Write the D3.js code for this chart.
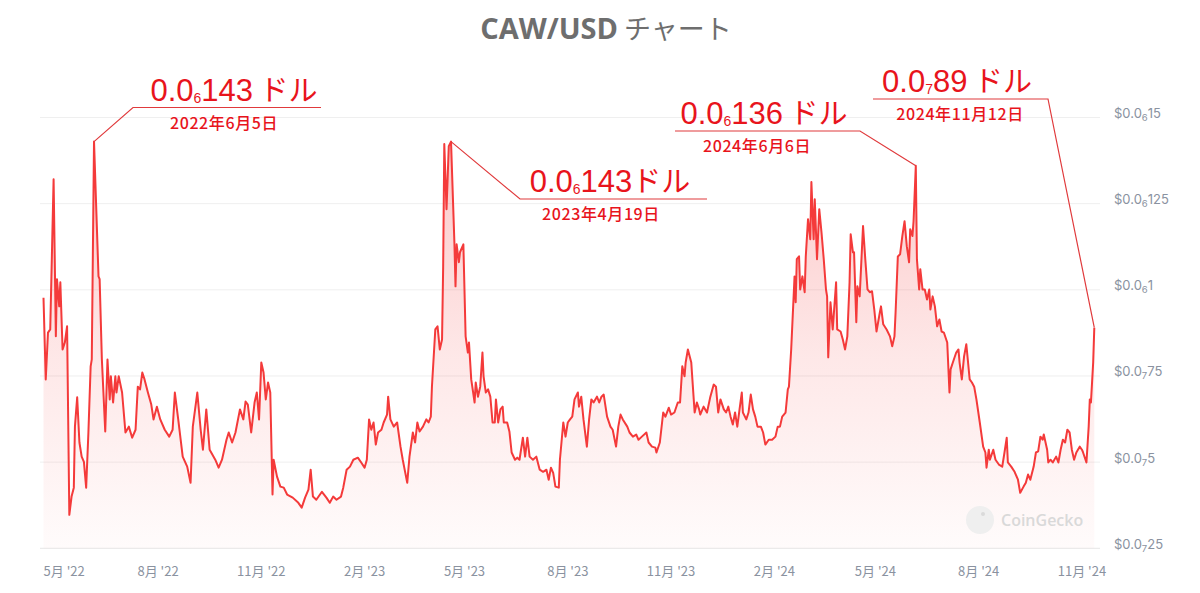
<!DOCTYPE html>
<html><head><meta charset="utf-8">
<script src="https://cdn.jsdelivr.net/npm/d3@7"></script>
<style>
html,body{margin:0;padding:0;background:#fff;}
svg{display:block;}
</style></head><body>
<svg id="chart" width="1200" height="593"></svg>
<script>
// Prices are in units of 1e-8 USD (i.e. 14.3 = $0.000000143)
const points2022 = [
["2022-04-21",9.77],["2022-04-23",7.40],["2022-04-25",8.76],["2022-04-27",8.85],["2022-04-30",13.21],
["2022-05-02",8.65],["2022-05-03",10.31],["2022-05-05",9.52],["2022-05-06",10.22],["2022-05-08",8.27],["2022-05-10",8.47],["2022-05-12",8.94],["2022-05-14",3.47],["2022-05-16",4.00],["2022-05-18",4.26],["2022-05-19",6.03],["2022-05-21",6.88],["2022-05-23",5.57],["2022-05-25",5.16],["2022-05-27",5.01],["2022-05-29",4.26],["2022-05-31",5.86],
["2022-06-02",7.78],["2022-06-03",7.98],["2022-06-05",14.30],["2022-06-09",10.39],["2022-06-10",10.31],["2022-06-12",7.98],["2022-06-15",5.89],["2022-06-17",7.98],["2022-06-19",6.82],["2022-06-20",7.49],["2022-06-22",6.73],["2022-06-24",7.49],["2022-06-25",7.02],["2022-06-27",7.49],["2022-06-30",7.02],
["2022-07-03",5.86],["2022-07-06",6.03],["2022-07-09",5.71],["2022-07-12",5.94],["2022-07-14",7.19],["2022-07-16",7.11],["2022-07-18",7.60],["2022-07-20",7.40],["2022-07-23",7.02],["2022-07-26",6.67],["2022-07-28",6.24],["2022-07-31",6.61],
["2022-08-03",6.24],["2022-08-07",5.94],["2022-08-11",5.74],["2022-08-14",5.94],["2022-08-16",7.02],["2022-08-19",6.24],["2022-08-23",5.16],["2022-08-27",4.87],["2022-08-30",4.40],
["2022-09-01",6.03],["2022-09-05",7.02],["2022-09-08",5.94],["2022-09-10",5.36],["2022-09-13",6.53],["2022-09-16",5.36],["2022-09-21",5.07],["2022-09-24",4.84],["2022-09-27",5.07],
["2022-10-01",5.65],["2022-10-03",5.86],["2022-10-06",5.57],["2022-10-09",5.86],["2022-10-13",6.53],["2022-10-16",6.24],["2022-10-18",6.76],["2022-10-20",6.67],["2022-10-23",5.86],["2022-10-26",6.73],["2022-10-28",7.02],["2022-10-30",6.24],
["2022-11-01",7.89],["2022-11-03",7.60],["2022-11-05",6.82],["2022-11-07",7.31],["2022-11-09",7.02],["2022-11-11",4.06],["2022-11-12",5.07],["2022-11-15",4.58],["2022-11-18",4.29],["2022-11-21",4.26],["2022-11-24",4.06],["2022-11-29",3.97],
["2022-12-04",3.82],["2022-12-07",3.68],["2022-12-10",3.97],["2022-12-13",4.20],["2022-12-15",4.78],["2022-12-17",4.00],["2022-12-20",3.91],["2022-12-25",4.14],["2022-12-29",3.97]
];
const points2023 = [
["2023-01-01",3.82],["2023-01-04",4.00],["2023-01-07",3.91],["2023-01-11",4.00],["2023-01-13",4.26],["2023-01-16",4.78],["2023-01-19",4.87],["2023-01-22",5.07],["2023-01-26",5.13],["2023-01-29",4.99],
["2023-02-01",4.84],["2023-02-03",5.07],["2023-02-05",6.24],["2023-02-07",5.94],["2023-02-09",6.15],["2023-02-11",5.51],["2023-02-13",5.86],["2023-02-16",5.94],["2023-02-18",6.15],["2023-02-21",6.38],["2023-02-22",6.90],["2023-02-24",6.24],["2023-02-27",6.03],
["2023-03-02",6.15],["2023-03-05",5.45],["2023-03-07",5.07],["2023-03-11",4.40],["2023-03-13",5.16],["2023-03-16",5.86],["2023-03-18",5.57],["2023-03-20",6.15],["2023-03-22",5.89],["2023-03-25",6.03],["2023-03-28",6.24],["2023-03-30",6.15],
["2023-04-01",6.32],["2023-04-02",7.19],["2023-04-05",8.85],["2023-04-07",8.94],["2023-04-09",8.27],["2023-04-11",8.56],["2023-04-12",10.68],["2023-04-13",14.23],["2023-04-15",12.34],["2023-04-17",14.17],["2023-04-19",14.30],["2023-04-22",11.38],["2023-04-23",10.10],["2023-04-24",11.32],["2023-04-26",10.80],["2023-04-27",11.09],["2023-04-30",11.32],
["2023-05-02",8.65],["2023-05-04",8.18],["2023-05-05",8.47],["2023-05-07",7.40],["2023-05-10",6.73],["2023-05-11",7.31],["2023-05-13",6.90],["2023-05-15",7.19],["2023-05-17",8.18],["2023-05-18",7.49],["2023-05-20",7.02],["2023-05-22",7.11],["2023-05-24",6.90],["2023-05-26",6.15],["2023-05-28",6.15],["2023-05-29",6.82],["2023-05-31",6.15],
["2023-06-02",6.53],["2023-06-04",6.61],["2023-06-05",6.15],["2023-06-08",6.15],["2023-06-10",5.89],["2023-06-12",5.28],["2023-06-15",5.07],["2023-06-17",5.13],["2023-06-19",5.07],["2023-06-22",5.71],["2023-06-24",5.16],["2023-06-26",5.71],["2023-06-28",5.16],
["2023-07-01",5.07],["2023-07-04",5.16],["2023-07-07",4.78],["2023-07-10",4.72],["2023-07-13",4.78],["2023-07-15",4.49],["2023-07-17",4.84],["2023-07-19",4.69],["2023-07-21",4.29],["2023-07-24",4.26],["2023-07-25",5.07],["2023-07-28",6.15],["2023-07-30",5.74],
["2023-08-01",6.15],["2023-08-03",6.24],["2023-08-05",6.32],["2023-08-07",6.82],["2023-08-10",7.02],["2023-08-11",6.61],["2023-08-13",6.90],["2023-08-15",6.24],["2023-08-18",5.45],["2023-08-20",6.24],["2023-08-22",6.82],["2023-08-24",6.73],["2023-08-27",6.90],["2023-08-29",6.73],["2023-08-31",6.90],
["2023-09-02",6.96],["2023-09-05",6.32],["2023-09-08",6.03],["2023-09-10",5.94],["2023-09-13",5.45],["2023-09-15",6.03],["2023-09-17",6.38],["2023-09-19",6.24],["2023-09-23",6.03],["2023-09-25",5.86],["2023-09-28",5.74],
["2023-10-01",5.80],["2023-10-03",5.65],["2023-10-06",5.74],["2023-10-10",5.86],["2023-10-12",5.57],["2023-10-15",5.45],["2023-10-18",5.42],["2023-10-19",5.28],["2023-10-22",5.57],["2023-10-25",6.44],["2023-10-27",6.32],["2023-10-30",6.58],
["2023-11-01",6.38],["2023-11-04",6.44],["2023-11-07",6.73],["2023-11-09",6.73],["2023-11-11",7.78],["2023-11-13",7.49],["2023-11-14",7.89],["2023-11-16",8.27],["2023-11-19",7.89],["2023-11-20",7.40],["2023-11-22",6.44],["2023-11-24",6.73],["2023-11-26",6.53],["2023-11-27",6.38],["2023-11-30",6.61],
["2023-12-03",6.44],["2023-12-06",6.90],["2023-12-09",7.25],["2023-12-11",7.19],["2023-12-13",6.44],["2023-12-15",6.82],["2023-12-18",6.53],["2023-12-20",6.44],["2023-12-22",6.61],["2023-12-24",6.32],["2023-12-26",6.09],["2023-12-28",6.44],["2023-12-30",6.03]
];
const points2024 = [
["2024-01-01",6.53],["2024-01-03",7.02],["2024-01-04",6.44],["2024-01-07",6.24],["2024-01-09",6.44],["2024-01-11",6.96],["2024-01-13",6.53],["2024-01-15",6.32],["2024-01-17",6.03],["2024-01-20",6.03],["2024-01-22",5.86],["2024-01-24",5.51],["2024-01-27",5.65],["2024-01-30",5.65],
["2024-02-02",5.74],["2024-02-04",6.03],["2024-02-06",6.03],["2024-02-08",6.32],["2024-02-11",6.44],["2024-02-13",7.11],["2024-02-14",7.19],["2024-02-16",8.27],["2024-02-19",10.39],["2024-02-20",9.64],["2024-02-21",10.89],["2024-02-23",10.97],["2024-02-24",10.01],["2024-02-26",10.39],["2024-02-28",9.93],["2024-02-29",10.97],
["2024-03-02",12.05],["2024-03-04",11.47],["2024-03-05",13.13],["2024-03-07",11.47],["2024-03-08",12.63],["2024-03-10",10.89],["2024-03-12",12.34],["2024-03-14",11.67],["2024-03-16",10.89],["2024-03-18",10.01],["2024-03-19",9.81],["2024-03-20",8.04],["2024-03-22",9.64],["2024-03-24",8.85],["2024-03-27",10.22],["2024-03-28",8.85],["2024-03-31",8.79],
["2024-04-02",8.56],["2024-04-04",8.27],["2024-04-06",8.65],["2024-04-08",10.22],["2024-04-09",11.61],["2024-04-11",11.09],["2024-04-12",11.09],["2024-04-14",9.06],["2024-04-15",10.10],["2024-04-17",9.81],["2024-04-20",11.85],["2024-04-22",10.89],["2024-04-24",10.01],["2024-04-26",9.93],["2024-04-28",9.96],["2024-04-30",9.43],
["2024-05-02",8.79],["2024-05-05",9.35],["2024-05-06",9.52],["2024-05-08",9.00],["2024-05-11",8.85],["2024-05-14",8.65],["2024-05-16",8.36],["2024-05-18",8.65],["2024-05-19",9.35],["2024-05-21",10.97],["2024-05-23",11.03],["2024-05-25",11.56],["2024-05-27",11.99],["2024-05-29",11.26],["2024-05-31",10.80],
["2024-06-01",11.76],["2024-06-03",11.56],["2024-06-04",11.99],["2024-06-06",13.60],["2024-06-07",10.89],["2024-06-09",10.01],["2024-06-10",10.60],["2024-06-12",10.01],["2024-06-14",10.01],["2024-06-16",9.72],["2024-06-18",10.01],["2024-06-19",9.43],["2024-06-21",9.81],["2024-06-23",9.52],["2024-06-25",8.94],["2024-06-27",9.14],["2024-06-29",8.79],
["2024-07-01",8.76],["2024-07-04",8.47],["2024-07-06",7.02],["2024-07-07",7.69],["2024-07-09",7.89],["2024-07-12",8.18],["2024-07-14",8.27],["2024-07-15",7.89],["2024-07-17",7.40],["2024-07-19",8.07],["2024-07-21",8.42],["2024-07-24",7.40],["2024-07-26",7.31],["2024-07-28",7.19],["2024-07-30",6.82],
["2024-08-02",6.15],["2024-08-05",5.45],["2024-08-07",5.28],["2024-08-08",4.84],["2024-08-10",5.36],["2024-08-11",5.07],["2024-08-14",5.36],["2024-08-16",5.07],["2024-08-19",4.93],["2024-08-22",4.87],["2024-08-24",5.28],["2024-08-26",5.71],["2024-08-27",4.99],["2024-08-30",4.87],
["2024-09-02",4.72],["2024-09-05",4.49],["2024-09-07",4.11],["2024-09-10",4.29],["2024-09-12",4.40],["2024-09-14",4.64],["2024-09-16",4.49],["2024-09-19",4.87],["2024-09-21",5.28],["2024-09-23",5.31],["2024-09-25",5.74],["2024-09-27",5.65],["2024-09-28",5.80],
["2024-10-01",5.36],["2024-10-02",4.99],["2024-10-04",5.07],["2024-10-06",4.99],["2024-10-09",5.16],["2024-10-11",4.99],["2024-10-13",5.36],["2024-10-15",5.65],["2024-10-17",5.57],["2024-10-19",5.94],["2024-10-21",5.86],["2024-10-23",5.36],["2024-10-25",5.07],["2024-10-27",5.28],["2024-10-30",5.45],
["2024-11-01",5.36],["2024-11-02",5.28],["2024-11-05",4.99],["2024-11-07",6.03],["2024-11-08",6.82],["2024-11-09",6.73],["2024-11-11",7.89],["2024-11-12",8.90]
];

const titleParts = ["CAW/USD", "チャート"];
const yTicks = [15, 12.5, 10, 7.5, 5, 2.5];
const yTickLabels = [["$0.0","6","15"],["$0.0","6","125"],["$0.0","6","1"],["$0.0","7","75"],["$0.0","7","5"],["$0.0","7","25"]];
const xTickDates = ["2022-05-01","2022-08-01","2022-11-01","2023-02-01","2023-05-01","2023-08-01","2023-11-01","2024-02-01","2024-05-01","2024-08-01","2024-11-01"];
const xTickLabels = ["5月 '22","8月 '22","11月 '22","2月 '23","5月 '23","8月 '23","11月 '23","2月 '24","5月 '24","8月 '24","11月 '24"];
const annDates = ["2022-06-05","2023-04-19","2024-06-06","2024-11-12"];
const annValues = [14.3, 14.3, 13.6, 8.9];
const annPriceText = [["0.0","6","143"," ドル"],["0.0","6","143","ドル"],["0.0","6","136"," ドル"],["0.0","7","89"," ドル"]];
const annDateText = ["2022年6月5日","2023年4月19日","2024年6月6日","2024年11月12日"];
const watermark = "CoinGecko";

// ---- layout (pixels) ----
const plot = {left: 43.5, right: 1094.3, top: 117.5, bottom: 548.3, gridL: 40, gridR: 1100};
const annLayout = [
  {elbow:[133,107.5], end:321, cx:234, dcx:224},
  {elbow:[520,199],   end:707, cx:610, dcx:601},
  {elbow:[860,131],   end:675, cx:764, dcx:757},
  {elbow:[1048,99],   end:873, cx:957, dcx:960}
];
const RED = "#f43a3a", ANN_RED = "#e8141c", AXIS_GRAY = "#8a92a0";

const svg = d3.select("#chart");
const parse = d3.utcParse("%Y-%m-%d");
const data = [...points2022, ...points2023, ...points2024].map(([d,v]) => ({date: parse(d), value: v}));

const x = d3.scaleUtc().domain(d3.extent(data, d => d.date)).range([plot.left, plot.right]);
const y = d3.scaleLinear().domain([2.5, 15]).range([plot.bottom, plot.top]);

// title
const t = svg.append("text").attr("x", 606).attr("y", 39).attr("text-anchor","middle")
  .attr("fill","#6e6e6e").style("font-size","29px");
t.append("tspan").text(titleParts[0]).style("font-family","'Open Sans', 'Noto Sans', sans-serif").style("font-weight","700");
t.append("tspan").text(" " + titleParts[1]).style("font-family","'Noto Sans CJK JP', sans-serif").style("font-weight","400").style("font-size","27px");

// grid
svg.append("g").selectAll("line").data(yTicks).join("line")
  .attr("x1", plot.gridL).attr("x2", plot.gridR)
  .attr("y1", d => y(d)).attr("y2", d => y(d))
  .attr("stroke", (d,i) => i === yTicks.length-1 ? "#e6e6e6" : "#efefef").attr("stroke-width", 1);

// y labels
const yl = svg.append("g").selectAll("text").data(yTicks).join("text")
  .attr("x", 1114).attr("y", d => y(d) + 0.5)
  .attr("fill", AXIS_GRAY).style("font-family","Inter, 'Noto Sans', sans-serif").style("font-size","13px");
yl.each(function(d,i){
  const s = d3.select(this), lab = yTickLabels[i];
  s.append("tspan").text(lab[0]);
  s.append("tspan").text(lab[1]).attr("dy", 3).style("font-size","9.5px");
  s.append("tspan").text(lab[2]).attr("dy", -3);
});

// x labels
const xl = svg.append("g").selectAll("text").data(xTickDates).join("text")
  .attr("y", 576).attr("fill", AXIS_GRAY)
  .style("font-family","'Noto Sans CJK JP', Inter, sans-serif").style("font-size","13px")
  .text((d,i) => xTickLabels[i]);
xl.each(function(d){
  const s = d3.select(this), px = x(parse(d)), w = this.getComputedTextLength();
  if (px - w/2 < plot.left) s.attr("x", plot.left).attr("text-anchor","start");
  else s.attr("x", px).attr("text-anchor","middle");
});

// area gradient
const grad = svg.append("defs").append("linearGradient").attr("id","areaGrad")
  .attr("gradientUnits","userSpaceOnUse").attr("x1",0).attr("x2",0).attr("y1",plot.top).attr("y2",plot.bottom);
grad.append("stop").attr("offset",0).attr("stop-color",RED).attr("stop-opacity",0.3);
grad.append("stop").attr("offset",0.55).attr("stop-color",RED).attr("stop-opacity",0.12);
grad.append("stop").attr("offset",1).attr("stop-color",RED).attr("stop-opacity",0.02);

svg.append("path").datum(data)
  .attr("d", d3.area().x(d => x(d.date)).y0(plot.bottom).y1(d => y(d.value)))
  .attr("fill","url(#areaGrad)");

// watermark
const wm = svg.append("g");
wm.append("circle").attr("cx", 980).attr("cy", 520).attr("r", 14).attr("fill","#efefef");
wm.append("circle").attr("cx", 983).attr("cy", 514).attr("r", 2).attr("fill","#dadada");
wm.append("text").attr("x", 1001).attr("y", 526).text(watermark)
  .attr("fill","#d9d9d9").style("font-family","'Open Sans', sans-serif").style("font-weight","600").style("font-size","16px");

svg.append("path").datum(data)
  .attr("d", d3.line().x(d => x(d.date)).y(d => y(d.value)))
  .attr("fill","none").attr("stroke",RED).attr("stroke-width",2).attr("stroke-linejoin","round");

// annotations
annDates.forEach((ds, i) => {
  const L = annLayout[i];
  const p = [x(parse(ds)), y(annValues[i])];
  svg.append("polyline")
    .attr("points", [p, L.elbow, [L.end, L.elbow[1]]].map(q => q.join(",")).join(" "))
    .attr("fill","none").attr("stroke","#e03a3c").attr("stroke-width",1.2);
  const pt = annPriceText[i];
  const tx = svg.append("text").attr("x", L.cx).attr("y", L.elbow[1] - 7).attr("text-anchor","middle")
    .attr("fill", ANN_RED).style("font-family","'Liberation Sans', Arial, sans-serif").style("font-size","31px");
  tx.append("tspan").text(pt[0]);
  tx.append("tspan").text(pt[1]).attr("dy", 2).style("font-size","14px");
  tx.append("tspan").text(pt[2]).attr("dy", -2);
  tx.append("tspan").text(pt[3]).style("font-family","'Noto Sans CJK JP', sans-serif").style("font-size","29px");
  svg.append("text").attr("x", L.dcx).attr("y", L.elbow[1] + 21).attr("text-anchor","middle")
    .attr("fill", ANN_RED).style("font-family","'Noto Sans CJK JP', sans-serif").style("font-weight","500").style("font-size","16px")
    .style("letter-spacing","0.6px").text(annDateText[i]);
});
</script>
</body></html>
